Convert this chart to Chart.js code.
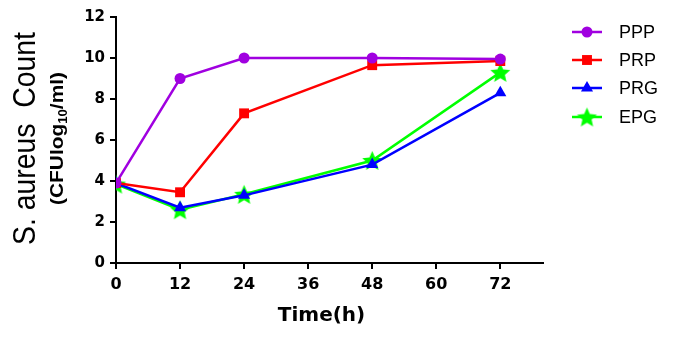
<!DOCTYPE html>
<html>
<head>
<meta charset="utf-8">
<script src="https://cdn.jsdelivr.net/npm/chart.js@4"></script>
<style>
  html, body { margin: 0; padding: 0; background: #fff; }
  canvas { display: block; }
</style>
</head>
<body>
<canvas id="myChart" width="693" height="338"></canvas>
<script>
// hours after start
const hours = [0, 12, 24, 48, 72];
const xTicks = [0, 12, 24, 36, 48, 60, 72];
const yTicks = [0, 2, 4, 6, 8, 10, 12];

// log10 CFU/ml
const ppp = [3.9, 9.0, 10.0, 10.0, 9.95];
const prp = [3.9, 3.45, 7.3, 9.65, 9.85];
const prg = [3.9, 2.7, 3.3, 4.8, 8.3];
const epg = [3.85, 2.6, 3.35, 5.0, 9.3];

const seriesNames = ['PPP', 'PRP', 'PRG', 'EPG'];

const FONT = "'Liberation Sans', Arial, sans-serif";
const WIDE = "'DejaVu Sans', Verdana, sans-serif";

// filled five point star, chart.js 'star' is only an asterisk
const makeStar = (color, outer, inner) => {
  const size = Math.ceil(outer * 2 + 2);
  const c = document.createElement('canvas');
  c.width = size;
  c.height = size;
  const g = c.getContext('2d');
  const cx = size / 2;
  const cy = size / 2 + 1;
  g.beginPath();
  for (let i = 0; i < 10; i += 1) {
    const r = i % 2 === 0 ? outer : inner;
    const a = -Math.PI / 2 + (i * Math.PI) / 5;
    const px = cx + r * Math.cos(a);
    const py = cy + r * Math.sin(a);
    if (i === 0) g.moveTo(px, py);
    else g.lineTo(px, py);
  }
  g.closePath();
  g.fillStyle = color;
  g.fill();
  return c;
};

const starImg = makeStar('#00ff00', 10.5, 4.8);

const toPoints = (arr) => arr.map((v, i) => ({ x: hours[i], y: v }));

const makeSet = (label, values, color, style, radius) => ({
  label,
  data: toPoints(values),
  borderColor: color,
  backgroundColor: color,
  pointBackgroundColor: color,
  pointBorderColor: color,
  pointBorderWidth: 0,
  pointStyle: style,
  pointRadius: radius,
  pointHoverRadius: radius,
  borderWidth: 2.5,
  fill: false,
  tension: 0,
});

const titlesAndLegend = {
  id: 'titlesAndLegend',
  afterDraw(chart) {
    const { ctx } = chart;
    ctx.save();
    ctx.fillStyle = '#000';

    // main y title
    ctx.save();
    ctx.translate(35, 138.5);
    ctx.rotate(-Math.PI / 2);
    ctx.font = `31px ${FONT}`;
    const t1 = 'S. aureus  Count';
    const w1 = ctx.measureText(t1).width;
    ctx.scale(213 / w1, 1);
    ctx.textAlign = 'center';
    ctx.textBaseline = 'alphabetic';
    ctx.fillText(t1, 0, 0);
    ctx.restore();

    // unit line with subscript
    ctx.save();
    ctx.translate(63, 138.5);
    ctx.rotate(-Math.PI / 2);
    const big = `bold 19px ${FONT}`;
    const small = `bold 12px ${FONT}`;
    const parts = [
      { s: '(CFUlog', f: big, dy: 0 },
      { s: '10', f: small, dy: 4 },
      { s: '/ml)', f: big, dy: 0 },
    ];
    let total = 0;
    parts.forEach((p) => {
      ctx.font = p.f;
      p.w = ctx.measureText(p.s).width;
      total += p.w;
    });
    ctx.scale(133 / total, 1);
    ctx.textAlign = 'left';
    ctx.textBaseline = 'alphabetic';
    let x = -total / 2;
    parts.forEach((p) => {
      ctx.font = p.f;
      ctx.fillText(p.s, x, p.dy);
      x += p.w;
    });
    ctx.restore();

    // x title
    ctx.font = `bold 20px ${WIDE}`;
    ctx.textAlign = 'center';
    ctx.textBaseline = 'alphabetic';
    ctx.fillText('Time(h)', 321.5, 321);

    // legend: line with marker through it
    const rows = [32, 60, 88, 117];
    chart.data.datasets.forEach((ds, i) => {
      const y = rows[i];
      ctx.strokeStyle = ds.borderColor;
      ctx.lineWidth = ds.borderWidth;
      ctx.beginPath();
      ctx.moveTo(572, y);
      ctx.lineTo(602, y);
      ctx.stroke();
      ctx.fillStyle = ds.backgroundColor;
      ctx.strokeStyle = ds.borderColor;
      ctx.lineWidth = 0;
      Chart.helpers.drawPoint(ctx, {
        pointStyle: ds.pointStyle,
        radius: ds.pointRadius,
        borderWidth: 0,
        rotation: 0,
      }, 587, y);
      ctx.fillStyle = '#000';
      ctx.font = `18px ${FONT}`;
      ctx.textAlign = 'left';
      ctx.textBaseline = 'middle';
      ctx.fillText(ds.label, 619, y + 1);
    });
    ctx.restore();
  },
};

/* eslint-disable */
const growthChart = new Chart('myChart', {
  /* eslint-enable */
  type: 'line',
  data: {
    datasets: [
      makeSet(seriesNames[0], ppp, '#a000e0', 'circle', 5.5),
      makeSet(seriesNames[1], prp, '#ff0000', 'rect', 7),
      makeSet(seriesNames[2], prg, '#0000ff', 'triangle', 7),
      makeSet(seriesNames[3], epg, '#00ff00', starImg, 10),
    ],
  },
  options: {
    responsive: false,
    devicePixelRatio: 1,
    animation: false,
    layout: { padding: { left: 0, right: 150, top: 17, bottom: 0 } },
    plugins: {
      legend: { display: false },
      tooltip: { enabled: false },
    },
    scales: {
      x: {
        type: 'linear',
        min: 0,
        max: 80,
        afterBuildTicks: (scale) => {
          scale.ticks = xTicks.map((v) => ({ value: v }));
        },
        afterFit: (scale) => {
          scale.height = 75;
        },
        border: { color: '#000', width: 2 },
        grid: {
          drawOnChartArea: false,
          drawTicks: true,
          tickLength: 6,
          color: '#000',
          lineWidth: 2,
        },
        ticks: {
          color: '#000',
          padding: 6,
          font: { family: WIDE, size: 16, weight: 'bold' },
          maxRotation: 0,
          autoSkip: false,
        },
      },
      y: {
        min: 0,
        max: 12,
        afterBuildTicks: (scale) => {
          scale.ticks = yTicks.map((v) => ({ value: v }));
        },
        afterFit: (scale) => {
          scale.width = 116;
        },
        border: { color: '#000', width: 2 },
        grid: {
          drawOnChartArea: false,
          drawTicks: true,
          tickLength: 6,
          color: '#000',
          lineWidth: 2,
        },
        ticks: {
          color: '#000',
          padding: 5,
          font: { family: WIDE, size: 15, weight: 'bold' },
        },
      },
    },
  },
  plugins: [titlesAndLegend],
});
</script>
</body>
</html>
